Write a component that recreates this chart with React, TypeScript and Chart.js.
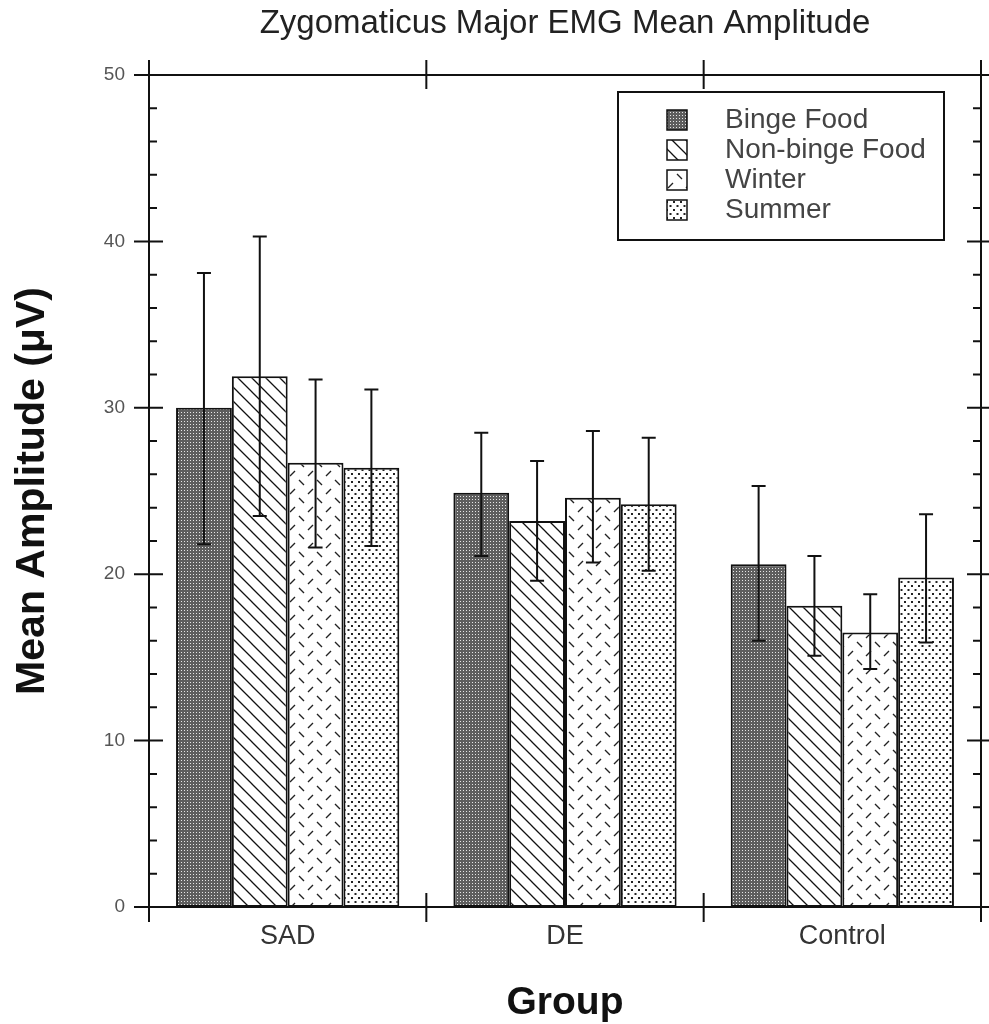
import React, { useEffect, useRef } from "react";
import { Chart, registerables } from "chart.js";

Chart.register(...registerables);

// ---- data ----
const groups = ["SAD", "DE", "Control"];
const seriesNames = ["Binge Food", "Non-binge Food", "Winter", "Summer"];

const bingeFood = [30.0, 24.9, 20.6];
const nonBingeFood = [31.9, 23.2, 18.1];
const winter = [26.7, 24.6, 16.5];
const summer = [26.4, 24.2, 19.8];

const bingeFoodUpper = [38.1, 28.5, 25.3];
const bingeFoodLower = [21.8, 21.1, 16.0];
const nonBingeFoodUpper = [40.3, 26.8, 21.1];
const nonBingeFoodLower = [23.5, 19.6, 15.1];
const winterUpper = [31.7, 28.6, 18.8];
const winterLower = [21.6, 20.7, 14.3];
const summerUpper = [31.1, 28.2, 23.6];
const summerLower = [21.7, 20.2, 15.9];

const yTicks = [0, 10, 20, 30, 40, 50];
const yMinorStep = 2;

const titleText = "Zygomaticus Major EMG Mean Amplitude";
const yTitle = "Mean Amplitude (\u03BCV)";
const xTitle = "Group";

const FONT = "'Liberation Sans', Arial, Helvetica, sans-serif";

function makeTile(w: number, h: number, draw: (c: CanvasRenderingContext2D) => void) {
  const cv = document.createElement("canvas");
  cv.width = w;
  cv.height = h;
  const c = cv.getContext("2d")!;
  draw(c);
  return cv;
}

function makePatterns(ctx: CanvasRenderingContext2D) {
  const binge = makeTile(3, 3, (c) => {
    c.fillStyle = "#5e5e5e";
    c.fillRect(0, 0, 3, 3);
    c.fillStyle = "#e6e6e6";
    c.fillRect(1, 1, 1, 1);
  });
  const nonBinge = makeTile(14, 14, (c) => {
    c.fillStyle = "#ffffff";
    c.fillRect(0, 0, 14, 14);
    c.strokeStyle = "#111";
    c.lineWidth = 1.3;
    c.beginPath();
    c.moveTo(-2, -2);
    c.lineTo(16, 16);
    c.moveTo(-2, 12);
    c.lineTo(2, 16);
    c.moveTo(12, -2);
    c.lineTo(16, 2);
    c.stroke();
  });
  const win = makeTile(18, 18, (c) => {
    c.fillStyle = "#ffffff";
    c.fillRect(0, 0, 18, 18);
    c.strokeStyle = "#222";
    c.lineWidth = 1.4;
    c.beginPath();
    c.moveTo(2, 8);
    c.lineTo(7, 3);
    c.moveTo(11, 12);
    c.lineTo(16, 17);
    c.stroke();
  });
  const sum = makeTile(7, 8, (c) => {
    c.fillStyle = "#ffffff";
    c.fillRect(0, 0, 7, 8);
    c.fillStyle = "#222";
    c.fillRect(1, 1, 2, 2);
    c.fillRect(4.5, 5, 2, 2);
  });
  return [binge, nonBinge, win, sum].map((t) => ctx.createPattern(t, "repeat")!);
}

export default function App() {
  const ref = useRef<HTMLCanvasElement | null>(null);

  useEffect(() => {
    const canvas = ref.current!;
    const ctx0 = canvas.getContext("2d")!;
    const patterns = makePatterns(ctx0);

    const values = [bingeFood, nonBingeFood, winter, summer];
    const uppers = [bingeFoodUpper, nonBingeFoodUpper, winterUpper, summerUpper];
    const lowers = [bingeFoodLower, nonBingeFoodLower, winterLower, summerLower];

    const framePlugin = {
      id: "frame",
      afterDatasetsDraw(chart: any) {
        const { ctx, chartArea } = chart;
        const { left, right, top, bottom } = chartArea;
        const ys = chart.scales.y;
        const xs = chart.scales.x;
        ctx.save();
        ctx.strokeStyle = "#111";
        ctx.lineWidth = 2;
        ctx.beginPath();
        ctx.moveTo(left, top - 15);
        ctx.lineTo(left, bottom + 15);
        ctx.moveTo(right, top - 15);
        ctx.lineTo(right, bottom + 15);
        ctx.moveTo(left - 15, top);
        ctx.lineTo(right + 8, top);
        ctx.moveTo(left - 15, bottom);
        ctx.lineTo(right + 8, bottom);
        for (let v = 0; v <= 50; v += yMinorStep) {
          const py = ys.getPixelForValue(v);
          if (yTicks.includes(v)) {
            ctx.moveTo(left - 15, py);
            ctx.lineTo(left + 14, py);
            ctx.moveTo(right - 14, py);
            ctx.lineTo(right + 15, py);
          } else {
            ctx.moveTo(left, py);
            ctx.lineTo(left + 8, py);
            ctx.moveTo(right - 8, py);
            ctx.lineTo(right, py);
          }
        }
        for (let i = 1; i < groups.length; i++) {
          const px = (xs.getPixelForValue(i - 1) + xs.getPixelForValue(i)) / 2;
          ctx.moveTo(px, top - 15);
          ctx.lineTo(px, top + 14);
          ctx.moveTo(px, bottom - 14);
          ctx.lineTo(px, bottom + 15);
        }
        ctx.stroke();
        ctx.restore();
      },
    };

    const errorPlugin = {
      id: "errorbars",
      afterDatasetsDraw(chart: any) {
        const { ctx } = chart;
        const ys = chart.scales.y;
        ctx.save();
        ctx.strokeStyle = "#111";
        ctx.lineWidth = 2;
        chart.data.datasets.forEach((_: any, di: number) => {
          const meta = chart.getDatasetMeta(di);
          meta.data.forEach((bar: any, j: number) => {
            const x = bar.x;
            const yu = ys.getPixelForValue(uppers[di][j]);
            const yl = ys.getPixelForValue(lowers[di][j]);
            ctx.beginPath();
            ctx.moveTo(x, yu);
            ctx.lineTo(x, yl);
            ctx.moveTo(x - 7, yu);
            ctx.lineTo(x + 7, yu);
            ctx.moveTo(x - 7, yl);
            ctx.lineTo(x + 7, yl);
            ctx.stroke();
          });
        });
        ctx.restore();
      },
    };

    const textPlugin = {
      id: "texts",
      afterDraw(chart: any) {
        const { ctx, chartArea } = chart;
        ctx.save();
        ctx.fillStyle = "#222";
        ctx.font = `33px ${FONT}`;
        ctx.textAlign = "center";
        ctx.textBaseline = "middle";
        ctx.fillText(titleText, (chartArea.left + chartArea.right) / 2, 24);

        const bx = 618, by = 92, bw = 326, bh = 148;
        ctx.fillStyle = "#ffffff";
        ctx.fillRect(bx, by, bw, bh);
        ctx.strokeStyle = "#111";
        ctx.lineWidth = 2;
        ctx.strokeRect(bx, by, bw, bh);
        seriesNames.forEach((name, i) => {
          const cy = 120 + i * 30;
          ctx.fillStyle = patterns[i];
          ctx.fillRect(667, cy - 10, 20, 20);
          ctx.lineWidth = 1.5;
          ctx.strokeStyle = "#111";
          ctx.strokeRect(667, cy - 10, 20, 20);
          ctx.fillStyle = "#444";
          ctx.font = `28px ${FONT}`;
          ctx.textAlign = "left";
          ctx.textBaseline = "middle";
          ctx.fillText(name, 725, cy);
        });
        ctx.restore();
      },
    };

    const chart = new Chart(canvas, {
      type: "bar",
      data: {
        labels: groups,
        datasets: values.map((vals, i) => ({
          label: seriesNames[i],
          data: vals,
          backgroundColor: patterns[i] as any,
          borderColor: "#111",
          borderWidth: 2,
          borderSkipped: false,
          categoryPercentage: 0.805,
          barPercentage: 1.0,
        })),
      },
      options: {
        responsive: false,
        animation: false,
        layout: { padding: { top: 75, right: 8, left: 0, bottom: 0 } },
        plugins: {
          legend: { display: false },
          title: { display: false },
          tooltip: { enabled: false },
        },
        scales: {
          x: {
            grid: { display: false, drawTicks: false },
            border: { display: false },
            ticks: {
              color: "#333",
              font: { family: FONT, size: 27 },
              padding: 13,
            },
            title: {
              display: true,
              text: xTitle,
              color: "#111",
              font: { family: FONT, size: 39, weight: "bold", lineHeight: 1 },
              padding: { top: 0, bottom: 1 },
            },
            afterFit(scale: any) {
              scale.height = 117;
            },
          },
          y: {
            min: 0,
            max: 50,
            grid: { display: false, drawTicks: false },
            border: { display: false },
            ticks: {
              stepSize: 10,
              color: "#555",
              font: { family: FONT, size: 19 },
              padding: 24,
              callback: (v: any) => (yTicks.includes(Number(v)) ? String(v) : ""),
            },
            title: {
              display: true,
              text: yTitle,
              color: "#111",
              font: { family: FONT, size: 41, weight: "bold", lineHeight: 1 },
              padding: { top: 12, bottom: 0 },
            },
            afterFit(scale: any) {
              scale.width = 149;
            },
          },
        },
      },
      plugins: [framePlugin, errorPlugin, textPlugin],
    } as any);

    return () => chart.destroy();
  }, []);

  return (
    <div style={{ position: "absolute", left: 0, top: 0, width: 989, height: 1024, background: "#fff" }}>
      <canvas ref={ref} width={989} height={1024} style={{ display: "block" }} />
    </div>
  );
}
